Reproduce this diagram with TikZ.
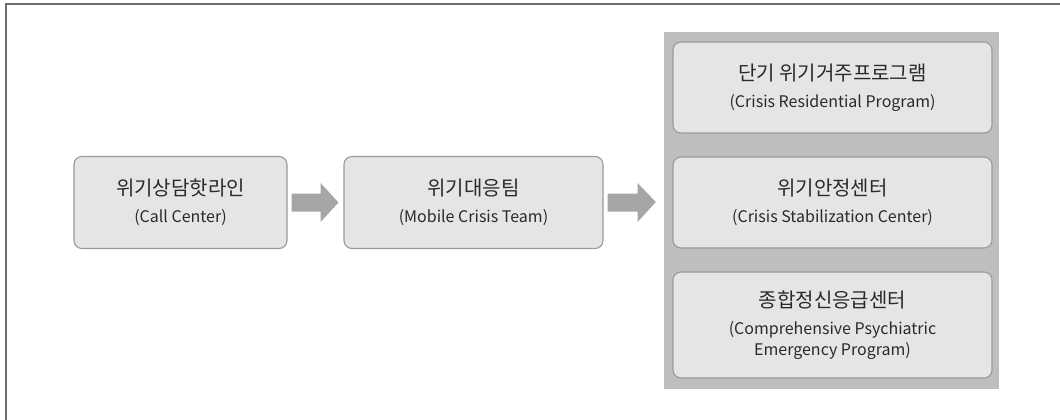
\documentclass[tikz,border=0pt]{standalone}
\usepackage{fontspec}
\setmainfont{Noto Sans CJK KR}
\usetikzlibrary{calc}
\definecolor{boxfill}{HTML}{E5E5E5}
\definecolor{boxline}{HTML}{9A9A9A}
\definecolor{panelfill}{HTML}{BEBEBE}
\definecolor{arrowfill}{HTML}{A6A6A6}
\definecolor{txt}{HTML}{2A2A2A}
\definecolor{frameline}{HTML}{6E6E6E}
\newcommand{\kor}[1]{{\fontsize{20}{26}\selectfont #1}}
\tikzset{
  stagebox/.style={draw=boxline, line width=1.1pt, fill=boxfill, rounded corners=8pt,
    align=center, text=txt, inner sep=0pt, font=\fontsize{16}{21}\selectfont},
  fatarrow/.style={fill=arrowfill, draw=none},
  panel/.style={fill=panelfill, draw=none, inner sep=0pt},
  frame/.style={draw=frameline, line width=1.6pt}
}
\begin{document}
\begin{tikzpicture}[x=1pt,y=-1pt]
\useasboundingbox (0,0) rectangle (1060,420);
\fill[white] (0,0) rectangle (1060,420);
% frame (top and left edges)
\coordinate (ftr) at (1060,4);
\coordinate (ftl) at (6,4);
\coordinate (fbl) at (6,420);
\draw[frame] (ftr) -- (ftl) -- (fbl);
% panel
\node[panel, minimum width=335pt, minimum height=357pt] (panel) at (831.5,210.5) {};
% boxes
\node[stagebox, minimum width=213pt, minimum height=92pt] (call) at (180.5,202.5)
  {\kor{위기상담핫라인}\\[6pt](Call Center)};
\node[stagebox, minimum width=259pt, minimum height=92pt] (mobile) at (473.5,202.5)
  {\kor{위기대응팀}\\[6pt](Mobile Crisis Team)};
\node[stagebox, minimum width=319pt, minimum height=91pt] (resid) at (832.5,87.5)
  {\kor{단기 위기거주프로그램}\\[6pt](Crisis Residential Program)};
\node[stagebox, minimum width=319pt, minimum height=91pt] (stab) at (832.5,202.5)
  {\kor{위기안정센터}\\[6pt](Crisis Stabilization Center)};
\node[stagebox, minimum width=319pt, minimum height=106pt] (comp) at (832.5,325)
  {\kor{종합정신응급센터}\\[6pt](Comprehensive Psychiatric\\Emergency Program)};
% arrows
\fill[fatarrow] ($(call.east)+(4,-9)$) -- ($(call.east)+(33,-9)$) -- ($(call.east)+(33,-19.5)$)
  -- ($(mobile.west)+(-5,0)$) -- ($(call.east)+(33,19.5)$) -- ($(call.east)+(33,9)$)
  -- ($(call.east)+(4,9)$) -- cycle;
\fill[fatarrow] ($(mobile.east)+(4,-9)$) -- ($(mobile.east)+(34,-9)$) -- ($(mobile.east)+(34,-19.5)$)
  -- ($(panel.west)+(-8,-8.5)$) -- ($(mobile.east)+(34,19.5)$) -- ($(mobile.east)+(34,9)$)
  -- ($(mobile.east)+(4,9)$) -- cycle;
\end{tikzpicture}
\end{document}
